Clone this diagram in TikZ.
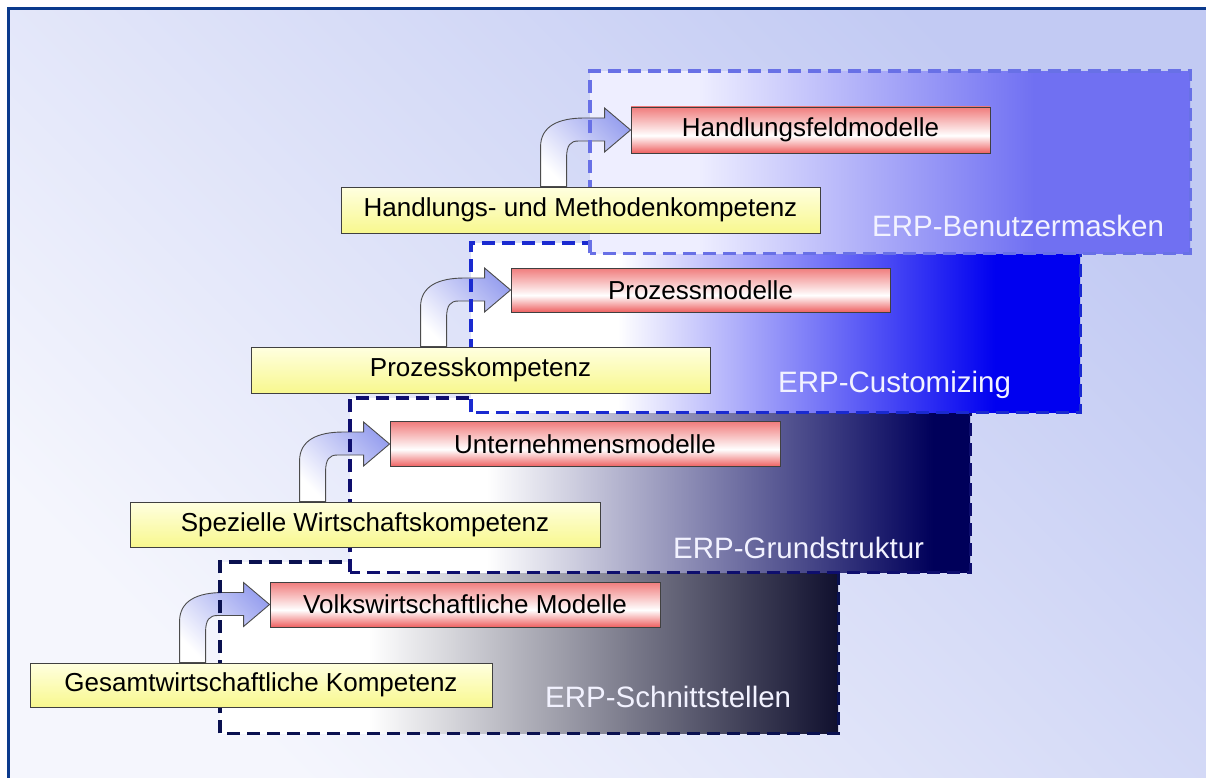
\documentclass[tikz,border=0pt]{standalone}
\usepackage{fontspec}
\setmainfont{Liberation Sans}
\usetikzlibrary{calc}
\definecolor{framec}{HTML}{0B3A8C}
\definecolor{bgT}{HTML}{C2CAF3}
\definecolor{bgB}{HTML}{F5F6FD}
\definecolor{redT}{HTML}{F07C7C}
\definecolor{redB}{HTML}{EE6060}
\definecolor{yelT}{HTML}{FFFFE0}
\definecolor{yelB}{HTML}{F8F88E}
\definecolor{arrC}{HTML}{99A1EF}
\definecolor{cA}{HTML}{10102E}
\definecolor{cB}{HTML}{00005A}
\definecolor{cC}{HTML}{0000F0}
\definecolor{cD}{HTML}{7070F2}
\definecolor{lavA}{HTML}{EEEEFF}
\definecolor{dA}{HTML}{0A1150}
\definecolor{dB}{HTML}{0E0E6E}
\definecolor{dC}{HTML}{1A2AD0}
\definecolor{dD}{HTML}{6870E6}
\definecolor{lblc}{HTML}{F2F2FF}
\pgfdeclarehorizontalshading{shA}{100bp}{color(0bp)=(white); color(37bp)=(white); color(75bp)=(cA); color(100bp)=(cA)}
\pgfdeclarehorizontalshading{shB}{100bp}{color(0bp)=(white); color(36bp)=(white); color(72bp)=(cB); color(100bp)=(cB)}
\pgfdeclarehorizontalshading{shC}{100bp}{color(0bp)=(white); color(37bp)=(white); color(68bp)=(cC); color(100bp)=(cC)}
\pgfdeclarehorizontalshading{shD}{100bp}{color(0bp)=(lavA); color(34bp)=(lavA); color(62bp)=(cD); color(100bp)=(cD)}
\pgfdeclareverticalshading{shR}{100bp}{color(0bp)=(redB); color(25bp)=(redB); color(44bp)=(white); color(75bp)=(redT); color(100bp)=(redT)}
\pgfdeclarelayer{fg}
\pgfsetlayers{main,fg}
\newcommand\bentarrow[2]{%
  \path[arrowsty] let \p1=(#2.west), \p2=(#1.north) in
   ({\x1-90pt},{\y2}) -- ({\x1-90pt},{\y1-17pt})
   .. controls ({\x1-90pt},{\y1+4pt}) and ({\x1-72pt},{\y1+12pt}) .. ({\x1-46pt},{\y1+12pt})
   -- ({\x1-26pt},{\y1+12pt}) -- ({\x1-26pt},{\y1+22pt}) -- (\x1,\y1)
   -- ({\x1-26pt},{\y1-22pt}) -- ({\x1-26pt},{\y1-11pt}) -- ({\x1-52pt},{\y1-11pt})
   .. controls ({\x1-60pt},{\y1-11pt}) and ({\x1-64pt},{\y1-15pt}) .. ({\x1-64pt},{\y1-28pt})
   -- ({\x1-64pt},{\y2}) -- cycle;}
\newcommand\dashout[2]{\draw[dashsty,draw=#2] (#1.south west) rectangle (#1.north east);}
\begin{document}
\begin{tikzpicture}[x=1pt,y=-1pt,
  bigbox/.style={shade, inner sep=0, anchor=north west, draw=none},
  dashsty/.style={line width=3.5, dash pattern=on 13pt off 7pt},
  redbox/.style={draw=black!75, line width=0.9, shade, shading=shR, inner sep=0, minimum height=45, font=\fontsize{26}{30}\selectfont},
  yelbox/.style={draw=black!75, line width=0.9, top color=yelT, bottom color=yelB, inner sep=0, minimum height=45, font=\fontsize{26}{30}\selectfont},
  arrowsty/.style={draw=black!70, line width=0.9, top color=arrC, bottom color=white, shading angle=-45},
  lbl/.style={anchor=west, inner sep=0, text=lblc, font=\fontsize{29.5}{34}\selectfont}]
\useasboundingbox (0,0) rectangle (1206,778);
\fill[white] (0,0) rectangle (1206,778);
\path[top color=bgT, bottom color=bgB, shading angle=-45] (8,8) rectangle (1206,778);
\draw[framec, line width=3] (8.5,778) -- (8.5,8.5) -- (1206,8.5);
% level 1
\node[bigbox, shading=shA, minimum width=618, minimum height=171] (b1) at (220,562) {};
\begin{pgfonlayer}{fg}
\node[redbox, minimum width=390] (r1) at (465,604.5) {Volkswirtschaftliche Modelle};
\node[yelbox, minimum width=462, minimum height=44] (y1) at (261,685) {Gesamtwirtschaftliche Kompetenz};
\end{pgfonlayer}
\bentarrow{y1}{r1}
\dashout{b1}{dA}
\node[lbl] (l1) at (545,697) {ERP-Schnittstellen};
% level 2
\node[bigbox, shading=shB, minimum width=620, minimum height=174] (b2) at (350,398) {};
\begin{pgfonlayer}{fg}
\node[redbox, minimum width=390] (r2) at (585,444) {Unternehmensmodelle};
\node[yelbox, minimum width=470] (y2) at (365,524.5) {Spezielle Wirtschaftskompetenz};
\end{pgfonlayer}
\bentarrow{y2}{r2}
\dashout{b2}{dB}
\node[lbl] (l2) at (673,548) {ERP-Grundstruktur};
% level 3
\node[bigbox, shading=shC, minimum width=609, minimum height=169] (b3) at (471,243) {};
\begin{pgfonlayer}{fg}
\node[redbox, minimum width=379, minimum height=44] (r3) at (700.5,290) {Prozessmodelle};
\node[yelbox, minimum width=459, minimum height=46] (y3) at (480.5,370) {Prozesskompetenz};
\end{pgfonlayer}
\bentarrow{y3}{r3}
\dashout{b3}{dC}
\node[lbl] (l3) at (778,385) {ERP-Customizing};
% level 4
\node[bigbox, shading=shD, minimum width=600, minimum height=182] (b4) at (590,71) {};
\begin{pgfonlayer}{fg}
\node[redbox, minimum width=359, minimum height=46] (r4) at (810.5,130) {Handlungsfeldmodelle};
\node[yelbox, minimum width=479, minimum height=46] (y4) at (580.5,210) {Handlungs- und Methodenkompetenz};
\end{pgfonlayer}
\bentarrow{y4}{r4}
\dashout{b4}{dD}
\node[lbl] (l4) at (872,226) {ERP-Benutzermasken};
\end{tikzpicture}
\end{document}
